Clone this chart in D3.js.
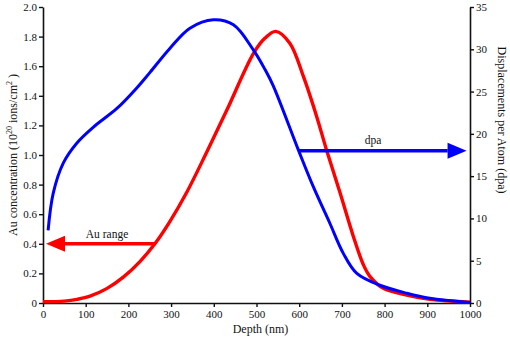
<!DOCTYPE html>
<html>
<head>
<meta charset="utf-8">
<script src="https://cdn.jsdelivr.net/npm/d3@7"></script>
<style>
  html, body { margin: 0; padding: 0; background: #fff; }
  svg { display: block; }
  text { font-family: "Liberation Serif", "Times New Roman", serif; fill: #111; }
</style>
</head>
<body>
<div id="chart"></div>
<script>
// ---- data ----
const depthTicks = [0, 100, 200, 300, 400, 500, 600, 700, 800, 900, 1000];
const concTicks = [0, 0.2, 0.4, 0.6, 0.8, 1.0, 1.2, 1.4, 1.6, 1.8, 2.0];
const dpaTicks = [0, 5, 10, 15, 20, 25, 30, 35];

// Displacements per atom (right axis)
const dpaDepth = [12, 24, 48, 79, 118, 173, 219, 251, 297, 344, 399, 446, 493, 520, 539, 598, 633, 672, 703, 735, 789, 852, 906, 1000];
const dpaValue = [8.6, 13.0, 16.6, 18.9, 20.8, 23.0, 25.4, 27.3, 30.1, 32.5, 33.5, 32.9, 29.9, 27.6, 25.7, 18.1, 13.75, 9.4, 5.9, 3.5, 2.1, 1.15, 0.55, 0.05];

// Au concentration (left axis)
const auDepth = [0, 50, 80, 110, 149, 188, 227, 262, 297, 337, 383, 430, 493, 520, 545, 578, 610, 641, 664, 696, 727, 750, 766, 797, 852, 906, 1000];
const auValue = [0.008, 0.013, 0.025, 0.046, 0.097, 0.175, 0.28, 0.40, 0.55, 0.75, 1.017, 1.30, 1.687, 1.79, 1.835, 1.755, 1.529, 1.259, 1.034, 0.741, 0.448, 0.26, 0.178, 0.099, 0.054, 0.025, 0.005];

// annotation arrows
const auArrow = { label: "Au range", fromDepth: 262, toDepth: 7, value: 0.4 };
const dpaArrow = { label: "dpa", fromDepth: 598, toDepth: 992, value: 18 };

// ---- layout ----
const W = 510, H = 339;
const x0 = 43, x1 = 470, yTop = 7, yBot = 303;

const svg = d3.select("#chart").append("svg").attr("width", W).attr("height", H);

const x = d3.scaleLinear().domain([0, 1000]).range([x0, x1]);
const yL = d3.scaleLinear().domain([0, 2]).range([yBot, yTop]);
const yR = d3.scaleLinear().domain([0, 35]).range([yBot, yTop]);

// axes
const fmtL = d => d === 0 ? "0" : d3.format(".1f")(d);
const axL = svg.append("g").attr("transform", `translate(${x0},0)`)
  .call(d3.axisLeft(yL).tickValues(concTicks).tickFormat(fmtL).tickSize(4).tickSizeOuter(0).tickPadding(2));
const axR = svg.append("g").attr("transform", `translate(${x1},0)`)
  .call(d3.axisRight(yR).tickValues(dpaTicks).tickSize(4).tickSizeOuter(0).tickPadding(2));
const axB = svg.append("g").attr("transform", `translate(0,${yBot})`)
  .call(d3.axisBottom(x).tickValues(depthTicks).tickFormat(d3.format("d")).tickSize(4).tickSizeOuter(0).tickPadding(3));

[axL, axR, axB].forEach(g => {
  g.selectAll("path.domain").attr("stroke", "#111").attr("stroke-width", 1.6);
  g.selectAll(".tick line").attr("stroke", "#111").attr("stroke-width", 1.4);
  g.selectAll(".tick text").style("font-family", '"Liberation Serif", serif').style("font-size", "11px").attr("fill", "#111");
});

// curves
const lineDpa = d3.line().x(d => x(d[0])).y(d => yR(d[1])).curve(d3.curveCatmullRom.alpha(0.5));
const lineAu = d3.line().x(d => x(d[0])).y(d => yL(d[1])).curve(d3.curveCatmullRom.alpha(0.5));

svg.append("path").datum(auDepth.map((d, i) => [d, auValue[i]]))
  .attr("d", lineAu).attr("fill", "none").attr("stroke", "#ff0000").attr("stroke-width", 3.4);
svg.append("path").datum(dpaDepth.map((d, i) => [d, dpaValue[i]]))
  .attr("d", lineDpa).attr("fill", "none").attr("stroke", "#0000ff").attr("stroke-width", 3);

// arrows
function arrow(xs, xe, yy, color) {
  const dir = Math.sign(xe - xs);
  const headLen = 19, headHalf = 8;
  svg.append("line").attr("x1", xs).attr("x2", xe - dir * headLen).attr("y1", yy).attr("y2", yy)
    .attr("stroke", color).attr("stroke-width", 3.4);
  svg.append("path")
    .attr("d", `M${xe},${yy}L${xe - dir * headLen},${yy - headHalf}L${xe - dir * headLen},${yy + headHalf}Z`)
    .attr("fill", color);
}
arrow(x(auArrow.fromDepth), x(auArrow.toDepth), yL(auArrow.value), "#ff0000");
arrow(x(dpaArrow.fromDepth), x(dpaArrow.toDepth), yR(dpaArrow.value), "#0000ff");

svg.append("text").attr("x", 107).attr("y", yL(auArrow.value) - 6).attr("text-anchor", "middle")
  .style("font-size", "11.5px").text(auArrow.label);
svg.append("text").attr("x", 373).attr("y", yR(dpaArrow.value) - 7).attr("text-anchor", "middle")
  .style("font-size", "11.5px").text(dpaArrow.label);

// axis titles
svg.append("text").attr("x", (x0 + x1) / 2 + 4).attr("y", 333).attr("text-anchor", "middle")
  .style("font-size", "12px").text("Depth (nm)");

const tl = svg.append("text").attr("transform", "translate(17,155) rotate(-90)")
  .attr("text-anchor", "middle").style("font-size", "12px");
tl.append("tspan").text("Au concentration (10");
tl.append("tspan").attr("dy", -5).style("font-size", "8px").text("20");
tl.append("tspan").attr("dy", 5).text(" ions/cm");
tl.append("tspan").attr("dy", -5).style("font-size", "8px").text("2");
tl.append("tspan").attr("dy", 5).text(" )");

svg.append("text").attr("transform", "translate(498,120) rotate(90)")
  .attr("text-anchor", "middle").style("font-size", "12px").text("Displacements per Atom (dpa)");
</script>
</body>
</html>
